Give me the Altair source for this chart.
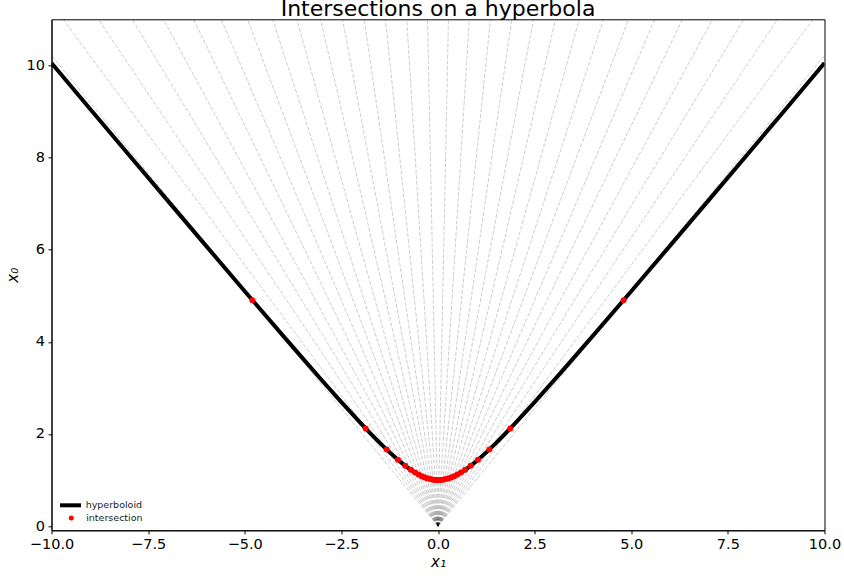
import altair as alt
import pandas as pd

# Hyperbola x0 = sqrt(1 + x1^2)
hyp_x1 = [-10, -9, -8, -7, -6, -5, -4, -3.5, -3, -2.5, -2, -1.75, -1.5, -1.25, -1.0,
          -0.8, -0.6, -0.4, -0.2, 0.0, 0.2, 0.4, 0.6, 0.8, 1.0, 1.25, 1.5, 1.75, 2,
          2.5, 3, 3.5, 4, 5, 6, 7, 8, 9, 10]
hyp_x0 = [10.05, 9.055, 8.062, 7.071, 6.083, 5.099, 4.123, 3.640, 3.162, 2.693, 2.236,
          2.016, 1.803, 1.601, 1.414, 1.281, 1.166, 1.077, 1.020, 1.0, 1.020, 1.077,
          1.166, 1.281, 1.414, 1.601, 1.803, 2.016, 2.236, 2.693, 3.162, 3.640, 4.123,
          5.099, 6.083, 7.071, 8.062, 9.055, 10.05]

# Gray dashed rays from the origin: x1 where each ray reaches x0 = 11 (right half; mirrored)
ray_top_x1 = [0.27, 0.81, 1.36, 1.91, 2.47, 3.04, 3.654, 4.280, 4.928, 5.609,
              6.325, 7.103, 7.913, 8.786, 9.702, 10.77]
ray_top_x0 = 11.0

# Red intersection points (right half; mirrored on the left)
int_x1 = [0.0246, 0.0740, 0.1244, 0.1762, 0.2304, 0.2879, 0.3522, 0.4224, 0.5011,
          0.5928, 0.7028, 0.8456, 1.0357, 1.3273, 1.8716, 4.8023]
int_x0 = [1.0003, 1.0027, 1.0077, 1.0154, 1.0262, 1.0406, 1.0602, 1.0855, 1.1185,
          1.1625, 1.2223, 1.3096, 1.4397, 1.6619, 2.1220, 4.9053]

hyp_df = pd.DataFrame({"x1": hyp_x1, "x0": hyp_x0, "series": "hyperboloid"})

ray_rows = []
rid = 0
for sgn in (-1, 1):
    for xt in ray_top_x1:
        ray_rows.append({"ray": rid, "o": 0, "x1": 0.0, "x0": 0.0})
        ray_rows.append({"ray": rid, "o": 1, "x1": sgn * xt, "x0": ray_top_x0})
        rid += 1
ray_df = pd.DataFrame(ray_rows)

int_df = pd.DataFrame({
    "x1": [-v for v in int_x1] + int_x1,
    "x0": int_x0 + int_x0,
    "kind": "intersection",
})

xs = alt.Scale(domain=[-10, 10], nice=False, zero=False)
ys = alt.Scale(domain=[-0.09, 11], nice=False, zero=False)

xax = alt.Axis(values=[-10, -7.5, -5, -2.5, 0, 2.5, 5, 7.5, 10], format=".1f",
               title="x₁", grid=False, labelFlush=False, labelOverlap=False)
yax = alt.Axis(values=[0, 2, 4, 6, 8, 10], format="d", title="x₀", grid=False,
               labelFlush=False, labelOverlap=False)

rays = alt.Chart(ray_df).mark_line(
    color="black", opacity=0.2, strokeWidth=1, strokeDash=[4, 1.7], clip=True
).encode(
    x=alt.X("x1:Q", scale=xs, axis=xax),
    y=alt.Y("x0:Q", scale=ys, axis=yax),
    detail="ray:N",
    order="o:Q",
)

hyper = alt.Chart(hyp_df).mark_line(strokeWidth=4, clip=True).encode(
    x=alt.X("x1:Q", scale=xs),
    y=alt.Y("x0:Q", scale=ys),
    order=alt.Order("x1:Q"),
    color=alt.Color("series:N",
                    scale=alt.Scale(domain=["hyperboloid"], range=["black"]),
                    legend=alt.Legend(title=None, orient="none", legendX=6.5, legendY=473.5,
                                      symbolType="stroke", symbolSize=441,
                                      symbolStrokeWidth=4, labelFontSize=9.5,
                                      labelOffset=2.7, padding=0,
                                      labelColor="#222")),
)

pts = alt.Chart(int_df).mark_point(filled=True, size=36, opacity=1).encode(
    x=alt.X("x1:Q", scale=xs),
    y=alt.Y("x0:Q", scale=ys),
    color=alt.Color("kind:N",
                    scale=alt.Scale(domain=["intersection"], range=["red"]),
                    legend=alt.Legend(title=None, orient="none", legendX=15, legendY=494,
                                      symbolType="circle", symbolSize=25,
                                      labelFontSize=9.5, labelOffset=10.2, padding=0,
                                      labelColor="#222")),
)

chart = alt.layer(rays, hyper, pts).resolve_scale(color="independent").properties(
    width=773, height=511,
    title=alt.Title("Intersections on a hyperbola", fontSize=22, fontWeight="normal",
                    anchor="middle", offset=-2, color="black"),
    autosize=alt.AutoSizeParams(type="none"),
    padding={"left": 51.5, "top": 19.3, "right": 19.5, "bottom": 46.7},
).configure(
    font="DejaVu Sans",
).configure_view(
    stroke="black", strokeWidth=1,
).configure_axis(
    domainColor="black", domainWidth=1, tickColor="black", tickWidth=1, tickSize=3.5,
    labelFontSize=14.5, labelColor="black", labelPadding=3.5, titleFontSize=15,
    titleFontWeight="normal", titleColor="black", titleFontStyle="italic",
    titleFont="DejaVu Sans",
).configure_axisX(
    titlePadding=4,
).configure_axisY(
    titlePadding=6,
)

chart.save("out.html", embed_options={"renderer": "svg", "actions": False})
